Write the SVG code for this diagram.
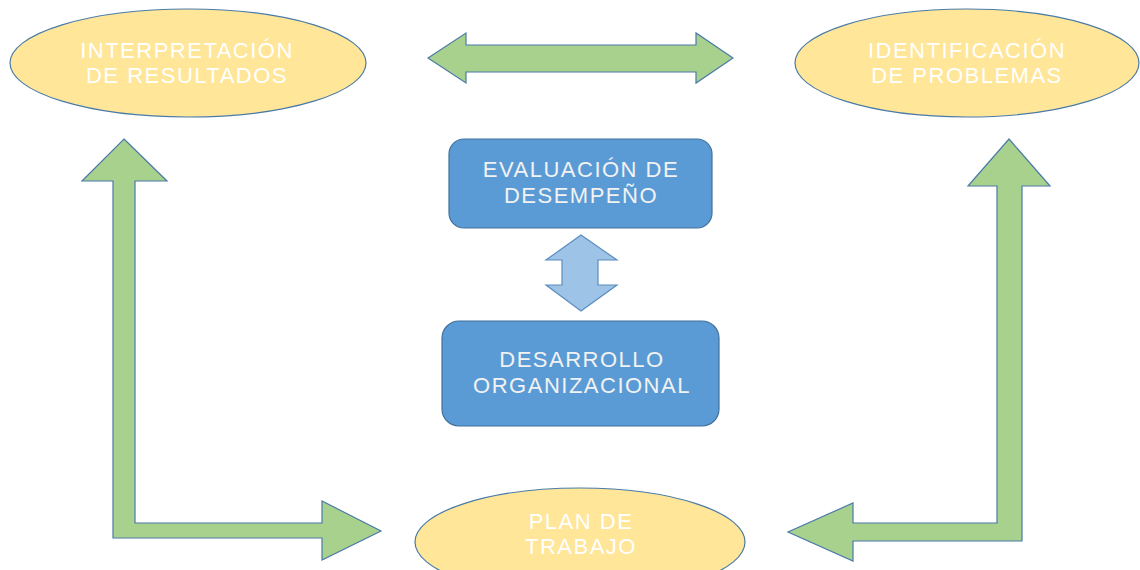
<svg xmlns="http://www.w3.org/2000/svg" width="1140" height="570" viewBox="0 0 1140 570">
<style>
.ell{fill:#FFE699;stroke:#4A7BA7;stroke-width:1.2}
.box{fill:#5B9BD5;stroke:#41719C;stroke-width:1.2}
.arr{fill:#A9D18E;stroke:#4A7BA7;stroke-width:1.2;stroke-linejoin:miter}
.sarr{fill:#9DC3E6;stroke:#5B8DBF;stroke-width:1.2}
.t{font-family:"Liberation Sans",Arial,sans-serif;font-size:22px;letter-spacing:1.5px;text-anchor:middle;fill:#FFFFFF}
.tb{fill:#F2F2F2}
</style>
<rect width="1140" height="570" fill="#FFFFFF"/>
<g id="connectors">
<polygon class="arr" points="428,58 466,33 466,45 696,45 696,33 733,58 696,83 696,72 466,72 466,83"/>
<polygon class="arr" points="124,139 167,181 135,181 135,523 322,523 322,501 381,531 322,560 322,538 113,538 113,181 82,181"/>
<polygon class="arr" points="1009,139 1050,186 1022,186 1022,541 853,541 853,561 788,532 853,503 853,523 997,523 997,186 968,186"/>
<polygon class="sarr" points="581,235 617,260 598,260 598,285 617,285 581,311 546,285 562,285 562,260 546,260"/>
</g>
<g id="interpretacion">
<ellipse class="ell" cx="188" cy="63" rx="178" ry="54"/>
<text class="t" x="187" y="58">INTERPRETACIÓN</text>
<text class="t" x="187" y="83">DE RESULTADOS</text>
</g>
<g id="identificacion">
<ellipse class="ell" cx="967" cy="63" rx="172" ry="54"/>
<text class="t" x="967" y="58">IDENTIFICACIÓN</text>
<text class="t" x="967" y="83">DE PROBLEMAS</text>
</g>
<g id="plan">
<ellipse class="ell" cx="580" cy="542" rx="165" ry="54"/>
<text class="t" x="581" y="529">PLAN DE</text>
<text class="t" x="581" y="554">TRABAJO</text>
</g>
<g id="evaluacion">
<rect class="box" x="449" y="139" width="263" height="89" rx="15"/>
<text class="t tb" x="581" y="177">EVALUACIÓN DE</text>
<text class="t tb" x="581" y="203">DESEMPEÑO</text>
</g>
<g id="desarrollo">
<rect class="box" x="442" y="321" width="277" height="105" rx="17"/>
<text class="t tb" x="582" y="367">DESARROLLO</text>
<text class="t tb" x="582" y="393">ORGANIZACIONAL</text>
</g>
</svg>
